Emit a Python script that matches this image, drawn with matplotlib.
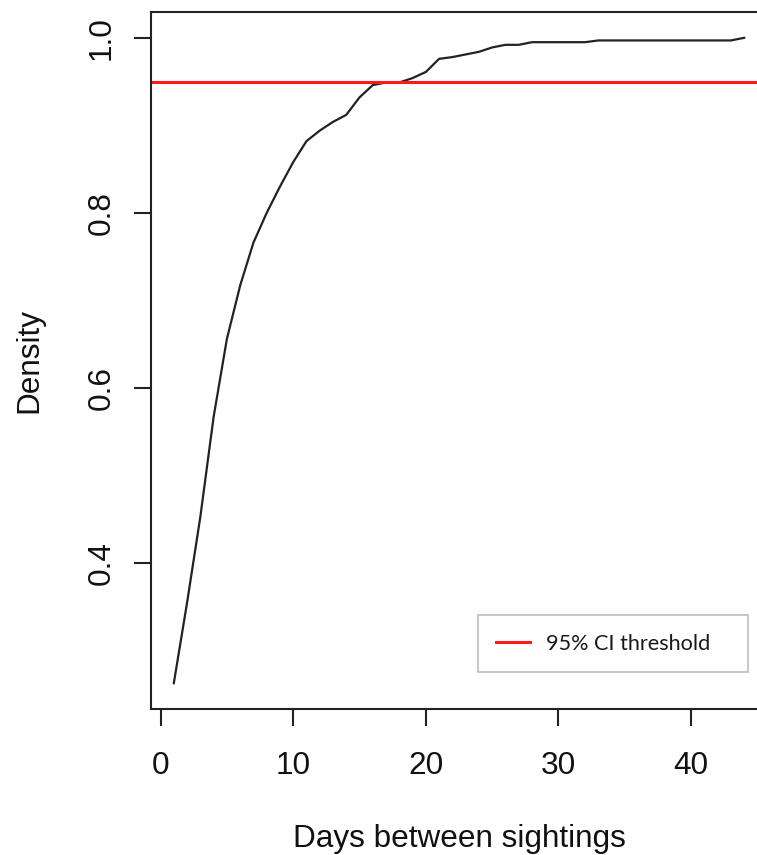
import numpy as np
import matplotlib.pyplot as plt

# cumulative density by days between sightings
days = list(range(1, 45))
density = [0.263, 0.355, 0.453, 0.567, 0.656, 0.717, 0.766, 0.800, 0.830, 0.858,
           0.882, 0.894, 0.904, 0.912, 0.932, 0.946, 0.949, 0.949, 0.954, 0.961,
           0.976, 0.978, 0.981, 0.984, 0.989, 0.992, 0.992, 0.995, 0.995, 0.995,
           0.995, 0.995, 0.997, 0.997, 0.997, 0.997, 0.997, 0.997, 0.997, 0.997,
           0.997, 0.997, 0.997, 1.000]
threshold = 0.95
threshold_label = '95% CI threshold'
x_ticks = [0, 10, 20, 30, 40]
y_ticks = [0.4, 0.6, 0.8, 1.0]

plt.rcParams['font.family'] = ['Liberation Sans', 'DejaVu Sans']

W, H = 757, 855
fig = plt.figure(figsize=(W / 100, H / 100), dpi=100)

# R-style plot region (right side runs off the picture like the original)
left_px, right_px, top_px, bottom_px = 151, 767, 12, 709
ax = fig.add_axes([left_px / W, 1 - bottom_px / H,
                   (right_px - left_px) / W, (bottom_px - top_px) / H])

ax.plot(days, density, color='#222222', lw=1.6)
red = ax.axhline(threshold, color='#ff1a1a', lw=2.2, label=threshold_label)

xr = max(days) - min(days)
ax.set_xlim(min(days) - 0.04 * xr, max(days) + 0.04 * xr)
yr = max(density) - min(density)
ax.set_ylim(min(density) - 0.04 * yr, max(density) + 0.04 * yr)

ax.set_xticks(x_ticks)
ax.set_yticks(y_ticks)
ax.set_xticklabels([str(v) for v in x_ticks])
ax.set_yticklabels([f'{v:.1f}' for v in y_ticks])

for s in ax.spines.values():
    s.set_linewidth(1.5)
    s.set_color('#222222')

ax.tick_params(axis='both', direction='out', length=12.5, width=1.5,
               color='#222222', labelsize=22.7, labelcolor='#111111')
ax.tick_params(axis='x', pad=17.5)
ax.tick_params(axis='y', pad=12)
for lab in ax.get_yticklabels():
    lab.set_rotation(90)
    lab.set_va('center')

ax.set_xlabel('Days between sightings', fontsize=22.7, color='#111111')
ax.set_ylabel('Density', fontsize=22.7, color='#111111')
ax.xaxis.set_label_coords((459 - left_px) / (right_px - left_px),
                          (bottom_px - 824) / (bottom_px - top_px))
ax.yaxis.set_label_coords((44 - left_px) / (right_px - left_px), 0.5)

# legend box placed in the lower right
lx0, lx1, ly0, ly1 = 478, 748, 614, 673
leg = ax.legend(handles=[red], loc='center left', mode='expand',
                bbox_to_anchor=(lx0 / W, 1 - ly1 / H, (lx1 - lx0) / W, (ly1 - ly0) / H),
                bbox_transform=fig.transFigure,
                prop={'family': 'Lato', 'size': 15.6},
                frameon=True, fancybox=False, framealpha=1,
                borderpad=0.85, handlelength=1.55, handletextpad=0.75,
                borderaxespad=0)
leg.get_frame().set_edgecolor('#bdbdbd')
leg.get_frame().set_linewidth(1.2)
for t in leg.get_texts():
    t.set_color('#1a1a1a')

fig.savefig('out.png', dpi=100)
